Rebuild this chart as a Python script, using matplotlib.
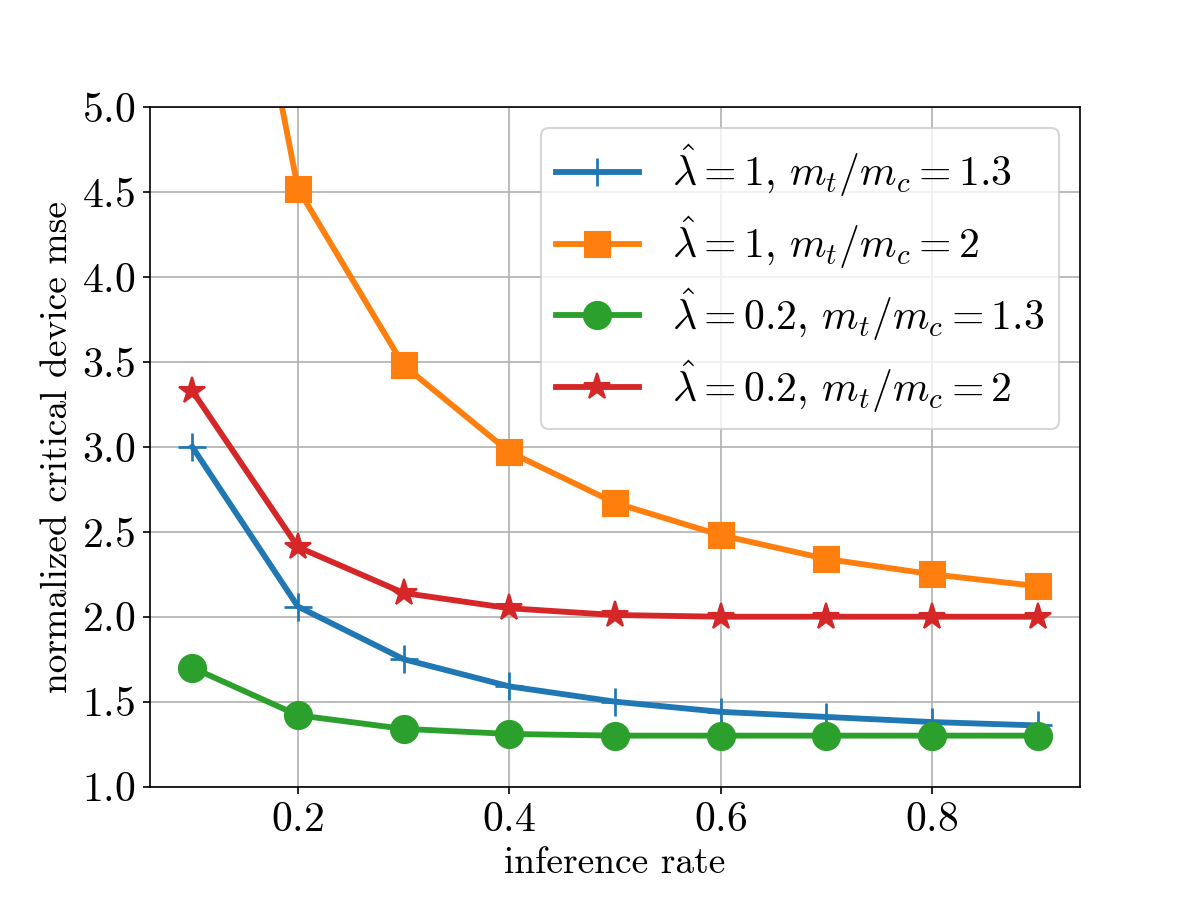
import matplotlib
matplotlib.use("Agg")
import matplotlib.pyplot as plt

plt.rcParams["font.family"] = "serif"
plt.rcParams["font.serif"] = ["cmr10", "DejaVu Serif"]
plt.rcParams["mathtext.fontset"] = "cm"
plt.rcParams["axes.formatter.use_mathtext"] = True
plt.rcParams["font.size"] = 20

rate = [0.1, 0.2, 0.3, 0.4, 0.5, 0.6, 0.7, 0.8, 0.9]
mse_l1_r13 = [3.00, 2.06, 1.75, 1.59, 1.50, 1.44, 1.41, 1.38, 1.36]
mse_l1_r2 = [7.7, 4.52, 3.48, 2.97, 2.67, 2.48, 2.34, 2.25, 2.18]
mse_l02_r13 = [1.70, 1.42, 1.34, 1.31, 1.30, 1.30, 1.30, 1.30, 1.30]
mse_l02_r2 = [3.33, 2.41, 2.14, 2.05, 2.01, 2.00, 2.00, 2.00, 2.00]

labels = [
    r"$\hat{\lambda} = 1,\, m_t/m_c = 1.3$",
    r"$\hat{\lambda} = 1,\, m_t/m_c = 2$",
    r"$\hat{\lambda} = 0.2,\, m_t/m_c = 1.3$",
    r"$\hat{\lambda} = 0.2,\, m_t/m_c = 2$",
]

fig, ax = plt.subplots(figsize=(8, 6), dpi=150)
fig.subplots_adjust(left=0.125, right=0.9, top=0.881, bottom=0.126)

lw = 2.8
ax.plot(rate, mse_l1_r13, "+-", color="C0", lw=lw, ms=13, mew=1.3, label=labels[0])
ax.plot(rate, mse_l1_r2, "s-", color="C1", lw=lw, ms=12, label=labels[1])
ax.plot(rate, mse_l02_r13, "o-", color="C2", lw=lw, ms=13, label=labels[2])
ax.plot(rate, mse_l02_r2, "*-", color="C3", lw=lw, ms=13, label=labels[3])

ax.set_ylim(1.0, 5.0)
ax.set_xticks([0.2, 0.4, 0.6, 0.8])
ax.set_yticks([1.0, 1.5, 2.0, 2.5, 3.0, 3.5, 4.0, 4.5, 5.0])
ax.grid(True)
ax.set_xlabel("inference rate", fontsize=18)
ax.set_ylabel("normalized critical device mse", fontsize=18)
ax.legend(loc="upper right", labelspacing=0.36, borderpad=0.35)

fig.savefig("out.png", dpi=150)
